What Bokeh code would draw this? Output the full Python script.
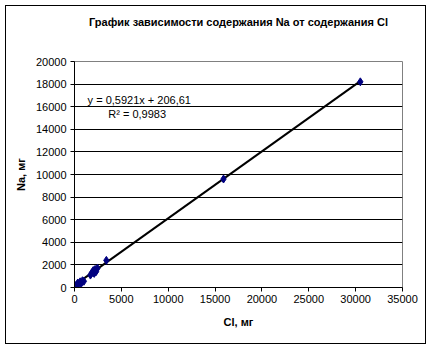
from bokeh.plotting import figure
from bokeh.models import Range1d, Label, SingleIntervalTicker, NumeralTickFormatter, Title
from bokeh.embed import file_html
from bokeh.resources import INLINE

title_text = "График зависимости содержания Na от содержания Cl"
x_label = "Cl, мг"
y_label = "Na, мг"

cl = [50, 120, 200, 300, 350, 450, 600, 700, 850, 1000, 1700, 1850, 2000, 2100, 2200, 2300, 2450, 3400, 15900, 30500]
na = [80, 150, 200, 250, 400, 300, 500, 350, 600, 550, 1100, 1300, 1500, 1250, 1600, 1400, 1700, 2400, 9600, 18200]

slope = 0.5921
intercept = 206.61
eq_text = "y = 0,5921x + 206,61"
r2_text = "R² = 0,9983"

FONT = "Liberation Sans"

p = figure(width=421, height=339, output_backend="svg", toolbar_location=None,
           x_range=Range1d(0, 35000), y_range=Range1d(0, 20000),
           min_border_left=68, min_border_right=25, min_border_top=55, min_border_bottom=58)
p.styles = {"margin-left": "5px", "margin-top": "5px", "border": "1px solid black"}

p.title.text = title_text
p.title.align = "center"
p.title.text_font = FONT
p.title.text_font_size = "11px"
p.title.text_font_style = "bold"
p.title.text_color = "black"
p.title.offset = 0
p.title.standoff = 0

# blank spacer title below the main title to lift it
p.add_layout(Title(text=" ", text_font_size="29px", standoff=0), "above")

p.outline_line_color = "#808080"
p.outline_line_width = 1
p.background_fill_color = "white"
p.border_fill_color = "white"

p.xgrid.grid_line_color = None
p.ygrid.grid_line_color = "black"
p.ygrid.grid_line_width = 1

for ax in (p.xaxis[0], p.yaxis[0]):
    ax.axis_line_color = "black"
    ax.major_tick_line_color = "black"
    ax.minor_tick_line_color = None
    ax.major_tick_in = 0
    ax.major_tick_out = 4
    ax.major_label_text_font = FONT
    ax.major_label_text_font_size = "11px"
    ax.major_label_text_color = "black"
    ax.axis_label_text_font = FONT
    ax.axis_label_text_font_size = "11px"
    ax.axis_label_text_font_style = "bold"
    ax.axis_label_text_color = "black"
    ax.formatter = NumeralTickFormatter(format="0")

p.xaxis.ticker = SingleIntervalTicker(interval=5000, num_minor_ticks=0)
p.yaxis.ticker = SingleIntervalTicker(interval=2000, num_minor_ticks=0)
p.xaxis.axis_label = x_label
p.yaxis.axis_label = y_label
p.xaxis.major_label_standoff = 3
p.yaxis.major_label_standoff = 4
p.xaxis.axis_label_standoff = 10
p.yaxis.axis_label_standoff = 6

fit_x = [min(cl), max(cl)]
fit_y = [slope * v + intercept for v in fit_x]
p.line(fit_x, fit_y, line_color="black", line_width=2)

p.scatter(cl, na, marker="diamond", size=8, fill_color="#000080", line_color="#000080")

p.add_layout(Label(x=1400, y=16550, text=eq_text, text_font=FONT, text_font_size="11px",
                   text_baseline="middle", text_color="black"))
p.add_layout(Label(x=3600, y=15350, text=r2_text, text_font=FONT, text_font_size="11px",
                   text_baseline="middle", text_color="black"))

open("out.html", "w").write(file_html(p, INLINE))
